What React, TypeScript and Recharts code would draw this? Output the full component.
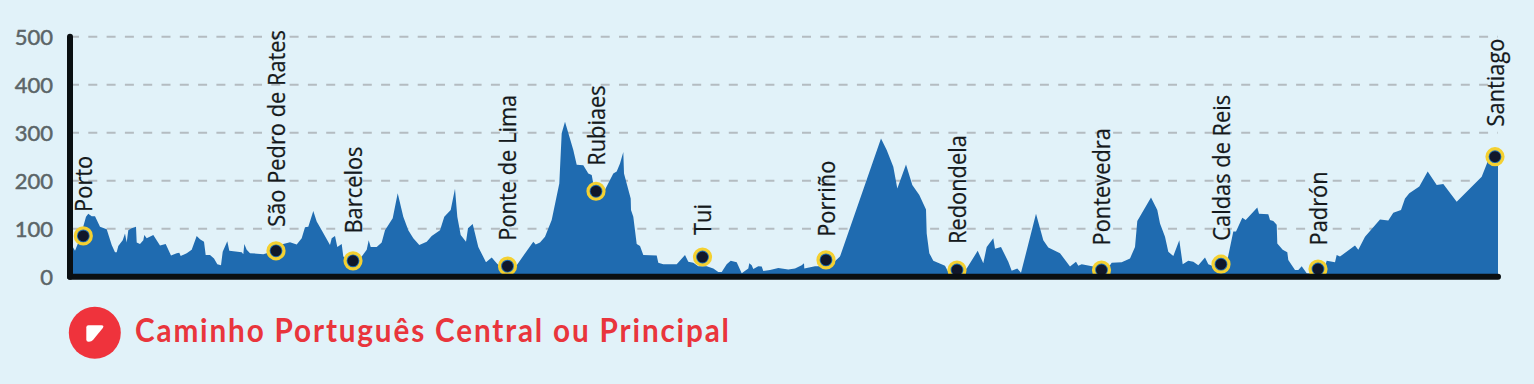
import React from "react";
import { ComposedChart, Area, Scatter, XAxis, YAxis, CartesianGrid } from "recharts";

const distances = [2.7,5,10,16,18.3,21.7,25,30,36.7,41.7,45,46.7,48.3,52.7,55,56.7,58.3,61.7,66,66.7,70,73.3,74.3,76.7,83.3,90,95.7,101,106.7,109.3,110.7,116.7,121.7,126.7,130,134,135.7,140,144,147.3,151,152.7,157.3,159.3,171.7,173.3,174.3,176.7,180,193.3,200,213.3,220,226.7,231.7,235,238.3,243.3,246.7,251.7,260,261.7,265,267.3,271.7,273.3,283.3,291.7,296.7,298.7,300.7,306.7,311.7,315,322.7,327.7,333.3,338.3,343.3,349.3,356.7,361.7,370,374.3,380.7,385,387.3,390.7,396,398,402.7,408.3,416,421.7,426.7,430,437.3,446.7,463.3,465.7,470,475,481.7,489.3,491.7,495,503.3,506.7,513.3,518.3,521.7,523.3,526,535,543.3,546.7,550,553.3,554,560.7,561,563.3,566.7,570,573.3,586.7,588.3,593.3,606.7,615,618.3,623.3,628.3,636.7,643.3,648.3,651.7,656.7,660.7,666.7,671.7,678.3,679.3,681.7,683.3,688.3,691.7,693.3,700,708.3,718.3,725,731.7,734,734.3,745,751.7,763.3,770,811,816.7,823.3,827.3,836,842.3,849.3,856,856.7,859.3,863.3,875,878.3,886.7,896.7,907.7,913.3,916.7,923.3,925,931,938.3,941.7,947.3,951,966,973.3,978.3,990,1000,1006,1008.3,1011.7,1023.3,1031.7,1040,1041.7,1051.7,1060,1065,1067.3,1081,1087.3,1090,1095,1098.3,1103.3,1109.3,1112.7,1118.3,1123.3,1128.3,1135,1138.3,1143.3,1151,1157.7,1163.3,1166,1172.3,1175.7,1187.3,1189,1198.3,1200,1203.3,1206.7,1207.3,1212.7,1217.3,1218.3,1225,1228.3,1231.7,1236.7,1246.7,1255,1256.7,1265,1266.7,1270,1285,1288.3,1295,1310,1318.3,1323.3,1331,1335,1339.3,1349.3,1357.7,1366.7,1373.3,1386.7,1411.7,1418.3,1428];
const elevations = [62.5,54,80,125,131,126,126,104,99,66,51,51,64,76,90,71,97,101,104,71,68,76,87,80,87,65,68,44,49,50,43,49,56,85,78,73,45,45,38,26,24,52,74,54,51,47,68,56,49,47,51,68,72,67,80,103,104,137,115,97,66,80,85,62,68,42,30,42,56,76,62,62,71,97,122,174,125,97,80,66,73,85,97,125,139,183,125,87,73,101,110,62,30,40,28,21,17,24,73,67,71,83,118,194,299,323,264,233,232,215,212,194,170,181,215,219,236,260,215,163,139,125,68,64,45,44,29,26,26,45,31,29,22,22,17,10,10,26,33,30,7,17,28,24,16,22,21,12,14,18,15,17,24,28,17,22,22,29,42,288,264,229,184,234,191,170,140,90,49,33,23,10,7,17,54,28,62,80,58,62,31,12.5,17,8,131,76,61,49,21,31,23,26,21,17,24,29,30,38,62,116,165,139,111,83,52,43,76,26,33,31,24,40,26,22,21,38,94,94,123,118,144,131,130,118,116,108,69,56,51,35,14,14,22,7,6,21,33,30,45,42,65,56,83,119,117,133,139,163,174,188,219,191,193,156,208,243,240];

const stopNames = ["Porto","São Pedro de Rates","Barcelos","Ponte de Lima","Rubiaes","Tui","Porriño","Redondela","Pontevedra","Caldas de Reis","Padrón","Santiago"];
const stopDistances = [13.3,206,283,437.5,526,632.5,756,887,1031.5,1151,1248,1425];
const stopElevations = [85,54,33,22,178,41,35,14,14,26,16,250];
const labelElevations = [135,104,90,75,231,87,83,68,65,75,65,313];
const yTicks = [0,100,200,300,400,500];
const title = "Caminho Português Central ou Principal";

const profile = distances.map((dist, i) => ({ dist, elev: elevations[i] }));
const stops = stopNames.map((name, i) => ({ name, dist: stopDistances[i], elev: stopElevations[i] }));
const labels = stopNames.map((name, i) => ({ name, dist: stopDistances[i], elev: labelElevations[i] }));

const Marker = (p: any) => (
  <g>
    <circle cx={p.cx} cy={p.cy} r={8} fill="#1f6bb0" stroke="#f4d031" strokeWidth={3.2} />
    <circle cx={p.cx} cy={p.cy} r={5.5} fill="#10172a" />
  </g>
);

const StopLabel = (p: any) => (
  <text
    transform={`translate(${p.cx + 8.5},${p.cy}) rotate(-90) scale(0.95,1)`}
    fontFamily="'Open Sans'"
    fontSize={23}
    fill="#14191c"
    stroke="#14191c"
    strokeWidth={0.25}
  >
    {p.name}
  </text>
);

const axisLine = { stroke: "#0a0f12", strokeWidth: 6, strokeLinecap: "round" as const };

export default function App() {
  return (
    <div style={{ position: "fixed", left: 0, top: 0, width: 1534, height: 384, background: "#e1f2f9", overflow: "hidden" }}>
      <ComposedChart width={1534} height={384} data={profile} margin={{ top: 36.7, right: 36, bottom: 106.3, left: 0 }}>
        <CartesianGrid horizontal vertical={false} stroke="#b4bcc1" strokeWidth={2} strokeDasharray="9 9.3" />
        <Area dataKey="elev" type="linear" fill="#1f6bb0" fillOpacity={1} stroke="none" isAnimationActive={false} dot={false} activeDot={false} />
        <Scatter data={labels} dataKey="elev" shape={StopLabel} isAnimationActive={false} />
        <Scatter data={stops} dataKey="elev" shape={Marker} isAnimationActive={false} zIndex={400} />
        <XAxis dataKey="dist" type="number" domain={[0, 1428]} tick={false} tickLine={false} height={1} axisLine={axisLine} zIndex={1000} />
        <YAxis
          width={70}
          domain={[0, 500]}
          ticks={yTicks}
          tickSize={0}
          tickMargin={17}
          axisLine={axisLine}
          zIndex={1000}
          tick={{ fontFamily: "Lato", fontWeight: 400, fontSize: 22, fill: "#5b6568", stroke: "#5b6568", strokeWidth: 0.5 }}
        />
      </ComposedChart>
      <svg width={1534} height={384} style={{ position: "absolute", left: 0, top: 0 }}>
        <circle cx={94.8} cy={332.8} r={26} fill="#ef333c" />
        <path d="M88.5 325.3 H101.5 Q104.5 325.3 102.8 328 L93 340 Q91.5 341.8 89 341.8 H88.5 Q86.3 341.8 86.3 339.5 V327.5 Q86.3 325.3 88.5 325.3 Z" fill="#ffffff" />
        <text
          transform="translate(135,342) scale(0.9,1)"
          fontFamily="Lato"
          fontWeight={700}
          fontSize={33}
          fill="#e9353c"
          textLength={660}
          lengthAdjust="spacing"
        >
          {title}
        </text>
      </svg>
    </div>
  );
}
